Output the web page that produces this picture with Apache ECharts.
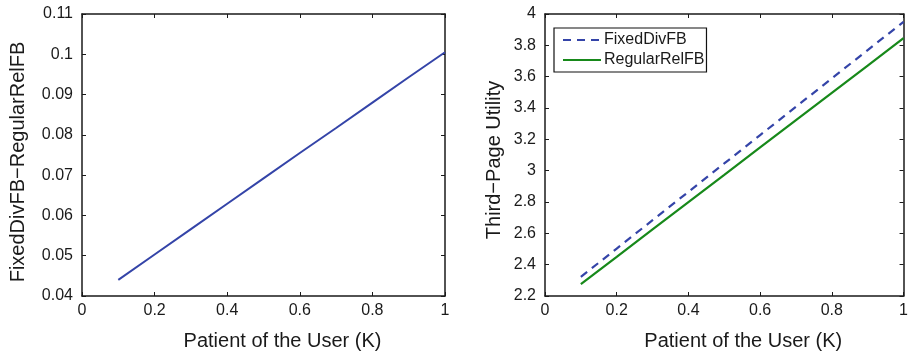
<!DOCTYPE html>
<html><head><meta charset="utf-8">
<script src="https://cdn.jsdelivr.net/npm/echarts@6/dist/echarts.min.js"></script>
<style>html,body{margin:0;padding:0;background:#fff}#c{width:911px;height:356px}</style>
</head><body><div id="c"></div>
<script>
var xValues = [0.1, 0.2, 0.3, 0.4, 0.5, 0.6, 0.7, 0.8, 0.9, 1.0];
var diffValues = [0.0440, 0.0503, 0.0566, 0.0629, 0.0692, 0.0755, 0.0817, 0.0880, 0.0943, 0.1005];
var fixedDivFB = [2.322, 2.503, 2.684, 2.865, 3.046, 3.227, 3.408, 3.589, 3.770, 3.950];
var regularRelFB = [2.276, 2.450, 2.625, 2.799, 2.973, 3.148, 3.322, 3.497, 3.671, 3.846];
var xTicks = {min: 0, max: 1, interval: 0.2};
var leftYTicks = {min: 0.04, max: 0.11, interval: 0.01};
var rightYTicks = {min: 2.2, max: 4.0, interval: 0.2};
var seriesNames = ['FixedDivFB', 'RegularRelFB'];
var xTitle = 'Patient of the User (K)';
var leftYTitle = 'FixedDivFB\u2212RegularRelFB';
var rightYTitle = 'Third\u2212Page Utility';

function pairs(xs, ys){ return xs.map(function(x,i){return [x, ys[i]];}); }
var FONT = 'Liberation Sans, Arial, Helvetica, sans-serif';
var axisColor = '#1a1a1a';
function fmt(d){ return function(v){ return String(parseFloat(v.toFixed(d))); }; }

function xAx(grid, pos, show){
  return {type:'value', gridIndex:grid, position:pos, min:xTicks.min, max:xTicks.max, interval:xTicks.interval,
    name: show ? xTitle : '', nameLocation:'middle', nameGap:35,
    nameTextStyle:{fontFamily:FONT, fontSize:20, color:'#1a1a1a', padding:[0,0,0,38]},
    axisLine:{show:true, onZero:false, lineStyle:{color:axisColor, width:1.5}},
    axisTick:{show:true, inside:true, length:4, lineStyle:{color:axisColor, width:1}},
    axisLabel:{show:show, fontFamily:FONT, fontSize:16, color:'#1a1a1a', margin:7, formatter:fmt(1)},
    splitLine:{show:false}};
}
function yAx(grid, pos, show, t, name, gap, dec, shift){
  return {type:'value', gridIndex:grid, position:pos, min:t.min, max:t.max, interval:t.interval,
    name: show ? name : '', nameLocation:'middle', nameGap:gap,
    nameTextStyle:{fontFamily:FONT, fontSize:20, color:'#1a1a1a', padding:[0, shift || 0, 0, 0]},
    axisLine:{show:true, onZero:false, lineStyle:{color:axisColor, width:1.5}},
    axisTick:{show:true, inside:true, length:4, lineStyle:{color:axisColor, width:1}},
    axisLabel:{show:show, fontFamily:FONT, fontSize:16, color:'#1a1a1a', margin:9, formatter:fmt(dec)},
    splitLine:{show:false}};
}

var chart = echarts.init(document.getElementById('c'), null, {renderer:'canvas'});
chart.setOption({
  animation:false,
  backgroundColor:'#fff',
  grid:[
    {left:82, right:466, top:14, bottom:57},
    {left:545, right:3, top:14, bottom:57}
  ],
  xAxis:[xAx(0,'bottom',true), xAx(0,'top',false), xAx(1,'bottom',true), xAx(1,'top',false)],
  yAxis:[
    yAx(0,'left',true,leftYTicks,leftYTitle,54,2,14), yAx(0,'right',false,leftYTicks,'',0,2),
    yAx(1,'left',true,rightYTicks,rightYTitle,41,1,10), yAx(1,'right',false,rightYTicks,'',0,1)
  ],
  legend:{
    data:seriesNames, left:554, top:28, orient:'vertical', itemWidth:38, itemHeight:10, itemGap:4,
    padding:[4,2,4,8], borderColor:'#111', borderWidth:1.2, backgroundColor:'#fff',
    itemStyle:{opacity:0},
    textStyle:{fontFamily:FONT, fontSize:16, color:'#1a1a1a', padding:[0,0,0,-2]}
  },
  series:[
    {type:'line', xAxisIndex:0, yAxisIndex:0, data:pairs(xValues, diffValues), showSymbol:false, symbol:'none',
      lineStyle:{color:'#3444a8', width:2}, itemStyle:{color:'#3444a8'}},
    {name:seriesNames[0], type:'line', xAxisIndex:2, yAxisIndex:2, data:pairs(xValues, fixedDivFB), showSymbol:false, symbol:'none',
      lineStyle:{color:'#3444a8', width:2.2, type:[8,6]}, itemStyle:{color:'#3444a8'}},
    {name:seriesNames[1], type:'line', xAxisIndex:2, yAxisIndex:2, data:pairs(xValues, regularRelFB), showSymbol:false, symbol:'none',
      lineStyle:{color:'#17891a', width:2.2}, itemStyle:{color:'#17891a'}}
  ]
});
</script></body></html>
